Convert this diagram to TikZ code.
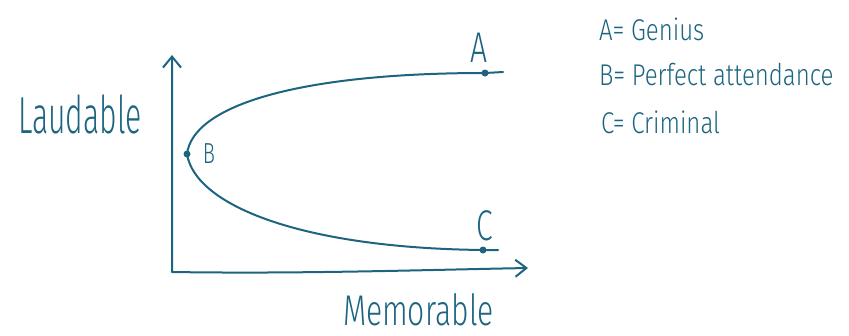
\documentclass[tikz,border=0pt]{standalone}
\usepackage{fontspec}
\setmainfont{Fira Sans}[UprightFont=* Light, FakeStretch=0.7]
\newfontfamily\handn{Fira Sans}[UprightFont=* Light, FakeStretch=0.58]
\newfontfamily\handw{Fira Sans}[UprightFont=* Light, FakeStretch=0.8]
\usetikzlibrary{arrows.meta}
\definecolor{ink}{RGB}{28,100,128}
\begin{document}
\begin{tikzpicture}[x=1pt,y=-1pt, line width=2pt, line cap=round, line join=round,
  curve/.style={draw=ink},
  lbl/.style={text=ink, inner sep=0pt, anchor=base},
  lblw/.style={text=ink, inner sep=0pt, anchor=base west},
  dot/.style={circle, fill=ink, draw=none, inner sep=0pt, minimum size=7pt}]
\useasboundingbox (0,0) rectangle (849,335);
% axes
\coordinate (O) at (172,272);
\coordinate (Ytip) at (172,55);
\coordinate (Xtip) at (528,268);
\draw[curve, {Straight Barb[length=11pt,width=18pt,line width=2pt]}-{Straight Barb[length=11pt,width=17pt,line width=2pt]}]
  (Ytip) -- (O) .. controls (300,274) and (420,270) .. (Xtip);
% points
\node[dot] (A) at (485,73) {};
\node[dot] (B) at (187,154) {};
\node[dot] (C) at (483,250) {};
\coordinate (Aend) at (503,72);
\coordinate (Cend) at (498,250);
% curves
\draw[curve] (B.center) .. controls (193,105) and (300,73) .. (A.center) -- (Aend);
\draw[curve] (B.center) .. controls (195,205) and (300,248) .. (C.center) -- (Cend);
% point labels
\node[lbl, font=\fontsize{43}{43}\selectfont] (Alab) at (479,62) {A};
\node[lbl, font=\fontsize{43}{43}\selectfont] (Clab) at (485,240) {C};
\node[lbl, font=\fontsize{29}{29}\selectfont] (Blab) at (209,163) {B};
% axis labels
\node[lblw, font=\handn\fontsize{52}{52}\selectfont] (ylab) at (17,133) {Laudable};
\node[lblw, font=\fontsize{43}{43}\selectfont] (xlab) at (342,325) {Memorable};
% legend
\node[lblw, font=\handw\fontsize{30}{30}\selectfont] (legA) at (598,40) {A= Genius};
\node[lblw, font=\handw\fontsize{30}{30}\selectfont] (legB) at (598,85) {B= Perfect attendance};
\node[lblw, font=\handw\fontsize{30}{30}\selectfont] (legC) at (600,133) {C= Criminal};
\end{tikzpicture}
\end{document}
